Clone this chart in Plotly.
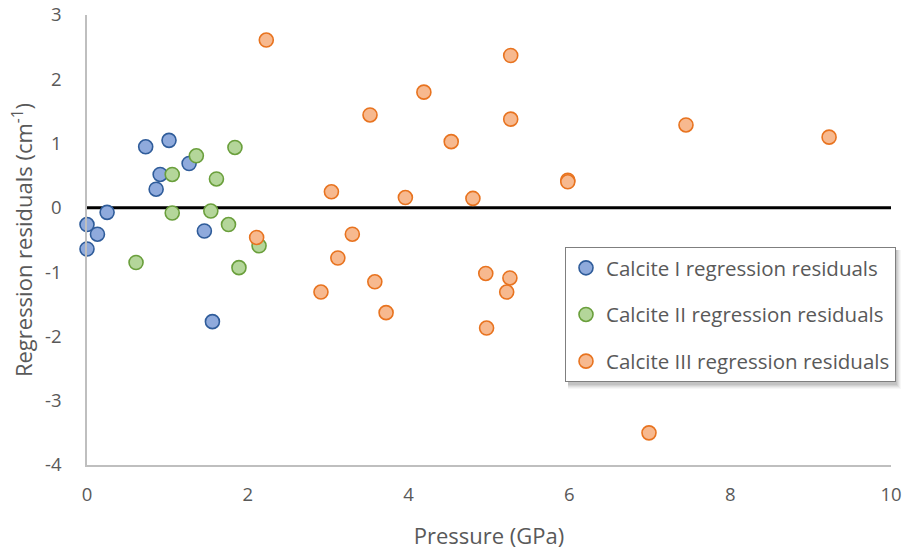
import plotly.graph_objects as go

# Calcite I
c1_p = [0.00, 0.00, 0.13, 0.25, 0.73, 1.02, 0.91, 0.86, 1.27, 1.46, 1.56]
c1_r = [-0.26, -0.64, -0.41, -0.07, 0.95, 1.05, 0.52, 0.29, 0.69, -0.36, -1.77]

# Calcite II
c2_p = [0.61, 1.06, 1.06, 1.36, 1.61, 1.54, 1.76, 1.84, 1.89, 2.14]
c2_r = [-0.85, 0.52, -0.08, 0.81, 0.45, -0.05, -0.26, 0.94, -0.93, -0.59]

# Calcite III
c3_p = [2.23, 2.11, 5.27, 4.19, 3.52, 5.27, 4.53, 5.98, 5.98, 3.04, 3.96, 4.80,
        3.30, 3.12, 4.96, 5.26, 3.58, 2.91, 5.22, 3.72, 4.97, 7.45, 9.23, 6.99]
c3_r = [2.61, -0.46, 2.37, 1.80, 1.445, 1.38, 1.03, 0.43, 0.405, 0.25, 0.16, 0.147,
        -0.41, -0.78, -1.02, -1.09, -1.15, -1.31, -1.31, -1.63, -1.87, 1.29, 1.10, -3.50]

zero_x = [0, 10]
zero_y = [0, 0]

x_ticks = [0, 2, 4, 6, 8, 10]
x_labels = ["0", "2", "4", "6", "8", "10"]
y_ticks = [-4, -3, -2, -1, 0, 1, 2, 3]
y_labels = ["-4", "-3", "-2", "-1", "0", "1", "2", "3"]

FONT = "Open Sans"
GRAY = "#595959"

fig = go.Figure()

fig.add_trace(go.Scatter(x=zero_x, y=zero_y, mode="lines",
                         line=dict(color="black", width=3),
                         showlegend=False, hoverinfo="skip"))

def add_series(x, y, name, fill, edge, group):
    fig.add_trace(go.Scatter(
        x=x, y=y, mode="markers", name=name, legendgroup=group,
        cliponaxis=False,
        marker=dict(size=14, color=fill, line=dict(color=edge, width=1.6)),
    ))

add_series(c1_p, c1_r, "Calcite I regression residuals", "#8FAADC", "#2F5C9A", "g1")
add_series(c2_p, c2_r, "Calcite II regression residuals", "#B4D69A", "#6A9F3C", "g2")
add_series(c3_p, c3_r, "Calcite III regression residuals", "#F7B98F", "#E8731F", "g3")

# plot area in window pixels: x 87..891, y 15..465
PX0, PW, PY1, PH = 87, 804, 465, 450

# legend shadow (subtle, bottom-right)
L, R, T, B = 565, 895, 247, 383
for off, op in [(6, 0.03), (5, 0.04), (4, 0.05), (3, 0.06), (2, 0.07)]:
    fig.add_shape(type="rect", xref="paper", yref="paper",
                  x0=(L + 3 - PX0) / PW, x1=(R + off - PX0) / PW,
                  y0=(PY1 - B - off) / PH, y1=(PY1 - T - 3) / PH,
                  line=dict(width=0), fillcolor=f"rgba(0,0,0,{op})", layer="above")

fig.update_layout(
    width=909, height=550,
    margin=dict(l=87, r=18, t=15, b=85, autoexpand=False),
    paper_bgcolor="white", plot_bgcolor="white",
    font=dict(family=FONT, color=GRAY, size=18),
    xaxis=dict(range=[0, 10], tickvals=x_ticks, ticktext=x_labels, showgrid=False, zeroline=False,
               showline=True, linecolor="#BFBFBF", linewidth=1.5, ticks="", automargin=False,
               tickfont=dict(size=18.5, color=GRAY), ticklabelstandoff=12,
               ticklabeloverflow="allow",
               title=dict(text="Pressure (GPa)", font=dict(size=22, color=GRAY), standoff=24)),
    yaxis=dict(range=[-4, 3], tickvals=y_ticks, ticktext=y_labels, showgrid=False, zeroline=False,
               showline=True, linecolor="#BFBFBF", linewidth=1.5, ticks="", automargin=False,
               tickfont=dict(size=18.5, color=GRAY), ticklabelstandoff=20,
               ticklabeloverflow="allow",
               title=dict(text="Regression residuals (cm<sup>-1</sup>)", font=dict(size=22, color=GRAY), standoff=6)),
    legend=dict(x=(L - PX0) / PW, y=(PY1 - T) / PH, xanchor="left", yanchor="top",
                bgcolor="white", bordercolor="#7F7F7F", borderwidth=1,
                font=dict(size=20.5, color=GRAY, family=FONT),
                tracegroupgap=17, traceorder="grouped", itemwidth=30),
    showlegend=True,
)

# remove the default 8px page margin so the figure fills the window exactly
fig.write_html("out.html",
               config={"displayModeBar": False},
               post_script="document.body.style.margin='0';document.body.style.padding='0';")
